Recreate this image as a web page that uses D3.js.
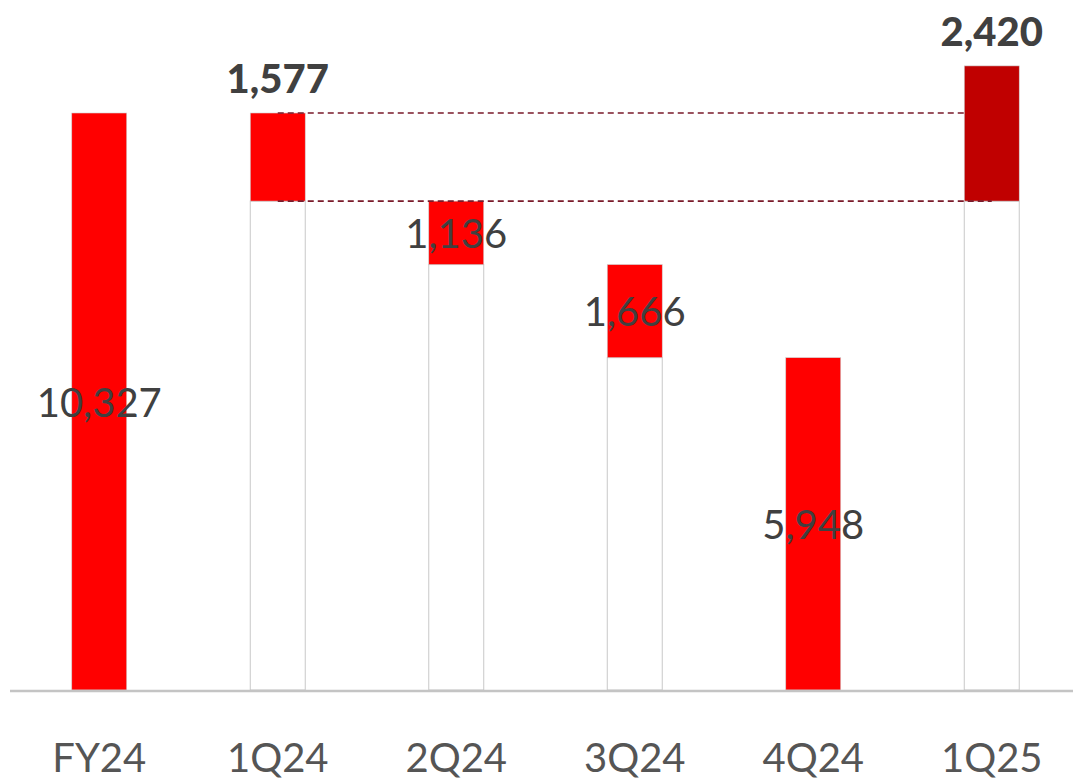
<!DOCTYPE html>
<html>
<head>
<meta charset="utf-8">
<script src="https://cdn.jsdelivr.net/npm/d3@7"></script>
<style>
  html, body { margin: 0; padding: 0; background: #ffffff; }
  svg { display: block; }
</style>
</head>
<body>
<svg id="chart" width="1073" height="780"></svg>
<script>
// ---- data ----
const categories = ["FY24", "1Q24", "2Q24", "3Q24", "4Q24", "1Q25"];
const values = [10327, 1577, 1136, 1666, 5948, 2420];
const barKinds = ["total", "decrease", "decrease", "decrease", "decrease", "increase"];
const labelTexts = ["10,327", "1,577", "1,136", "1,666", "5,948", "2,420"];
const boldLabel = [false, true, false, false, false, true];

// ---- layout ----
const W = 1073, H = 780;
const svg = d3.select("#chart");
const baseY = 690;
const pxPerUnit = 577 / 10327;
const yMax = 12000;

const x = d3.scaleBand().domain(categories).range([10, 1081]).paddingInner(0.692).paddingOuter(0.346);
const y = d3.scaleLinear().domain([0, yMax]).range([baseY, baseY - yMax * pxPerUnit]);
const bw = x.bandwidth();

// compute waterfall segments
let running = 0;
const segs = categories.map((c, i) => {
  const v = values[i];
  let lo, hi;
  if (barKinds[i] === "total") { lo = 0; hi = v; running = v; }
  else if (barKinds[i] === "decrease") { hi = running; lo = running - v; running = lo; }
  else { lo = running; hi = running + v; running = hi; }
  return { c, i, v, lo, hi, kind: barKinds[i] };
});
// the increase in 1Q25 starts from the level after the first quarter decrease
// (waterfall compares 1Q24 to 1Q25)
const q1Base = segs[1].lo;
segs[5].lo = q1Base; segs[5].hi = q1Base + values[5];

const colors = { total: "#ff0000", decrease: "#ff0000", increase: "#c00000" };

// invisible base bars (white with grey outline)
svg.append("g").selectAll("rect").data(segs.filter(d => d.lo > 0)).join("rect")
  .attr("x", d => x(d.c)).attr("width", bw)
  .attr("y", d => y(d.lo)).attr("height", d => y(0) - y(d.lo))
  .attr("fill", "#ffffff").attr("stroke", "#c8c8c8").attr("stroke-width", 1);

// value bars
svg.append("g").selectAll("rect").data(segs).join("rect")
  .attr("x", d => x(d.c)).attr("width", bw)
  .attr("y", d => y(d.hi)).attr("height", d => y(d.lo) - y(d.hi))
  .attr("fill", d => colors[d.kind])
  .attr("stroke", "#d0d0d0").attr("stroke-width", 0.6);

// dashed connector lines between 1Q24 and 1Q25
const lineG = svg.append("g").attr("stroke", "#7a1a2a").attr("stroke-width", 1.6).attr("stroke-dasharray", "6,4");
lineG.append("line")
  .attr("x1", x("1Q24") + bw / 2).attr("x2", x("1Q25"))
  .attr("y1", y(segs[1].hi)).attr("y2", y(segs[1].hi));
lineG.append("line")
  .attr("x1", x("1Q24") + bw / 2).attr("x2", x("1Q25") + bw / 2)
  .attr("y1", y(segs[1].lo)).attr("y2", y(segs[1].lo));

// baseline
svg.append("line")
  .attr("x1", 10).attr("x2", W)
  .attr("y1", y(0) + 1).attr("y2", y(0) + 1)
  .attr("stroke", "#c4c4c4").attr("stroke-width", 2.5);

// value labels
const fontFam = "Lato, 'Open Sans', sans-serif";
svg.append("g").selectAll("text").data(segs).join("text")
  .attr("x", d => x(d.c) + bw / 2)
  .attr("y", d => boldLabel[d.i] ? y(d.hi) - 20 : (y(d.hi) + y(d.lo)) / 2 + 15)
  .attr("text-anchor", "middle")
  .attr("font-family", fontFam)
  .attr("font-size", 40)
  .attr("font-weight", d => boldLabel[d.i] ? 900 : 400)
  .attr("fill", "#404040")
  .text(d => labelTexts[d.i]);

// category axis
const xAxis = svg.append("g").attr("transform", `translate(0, ${baseY + 82})`)
  .call(d3.axisBottom(x).tickSize(0).tickPadding(0));
xAxis.select(".domain").remove();
xAxis.selectAll("text")
  .attr("dy", 0)
  .attr("font-family", fontFam)
  .attr("font-size", 40)
  .attr("fill", "#555555");
</script>
</body>
</html>
